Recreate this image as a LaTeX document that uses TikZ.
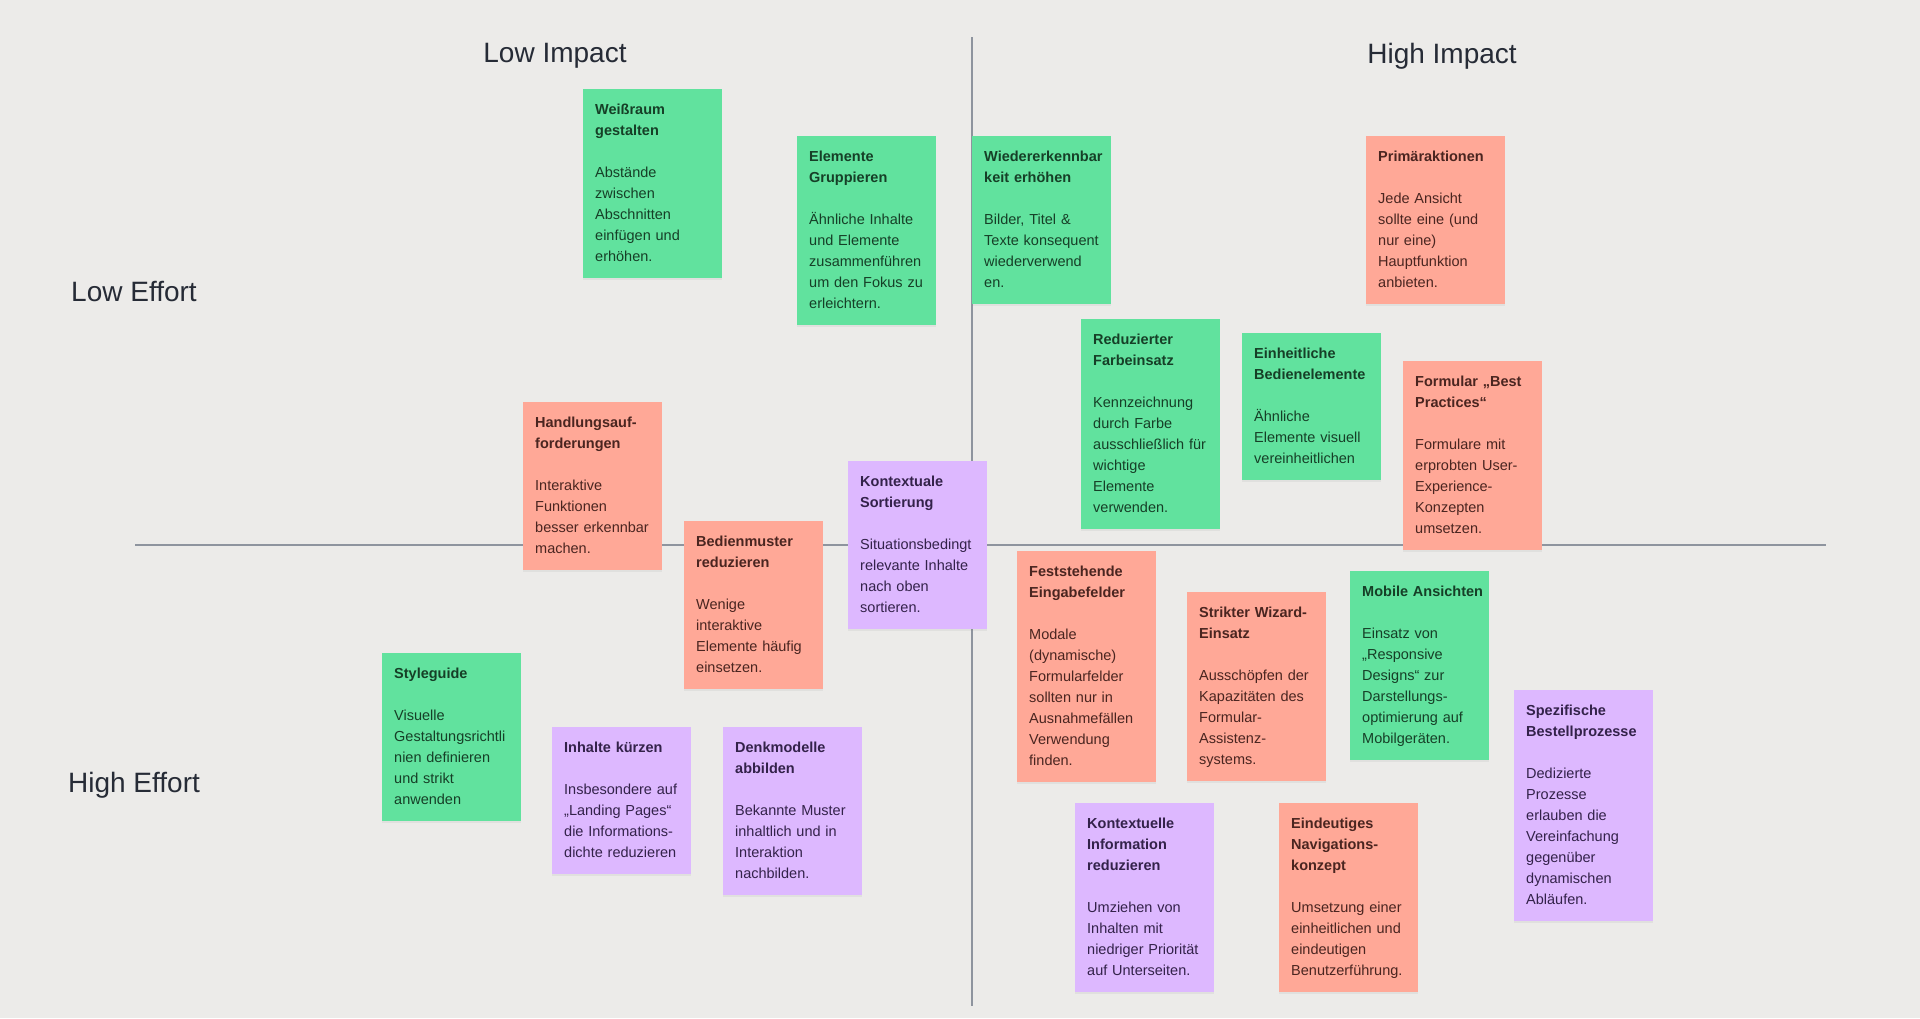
\documentclass[tikz,border=0pt]{standalone}
\usepackage{fontspec}
\setmainfont{Liberation Sans}
\usepackage{xcolor}
\usepackage{tikz}
\usetikzlibrary{shadows}
\definecolor{bgcol}{HTML}{ECEBE9}
\definecolor{axiscol}{HTML}{8E949E}
\definecolor{labelcol}{HTML}{262B36}
\definecolor{greenfill}{HTML}{61E29E}
\definecolor{greentext}{HTML}{163F27}
\definecolor{redfill}{HTML}{FFA897}
\definecolor{redtext}{HTML}{4A2520}
\definecolor{purplefill}{HTML}{DDB8FF}
\definecolor{purpletext}{HTML}{33224A}

\begin{document}
\begin{tikzpicture}[
    x=1pt, y=-1pt,
    axis/.style={draw=axiscol, line width=2pt},
    axislabel/.style={text=labelcol, font=\fontsize{28}{32}\selectfont},
    note/.style={anchor=north west, text width=115pt, inner xsep=12pt, inner ysep=10.5pt,
        align=left, font=\fontsize{14.5}{21}\selectfont,
        execute at begin node=\strut, execute at end node=\strut,
        drop shadow={shadow xshift=0pt, shadow yshift=-2pt, opacity=0.10}},
    greennote/.style={note, fill=greenfill, text=greentext},
    rednote/.style={note, fill=redfill, text=redtext},
    purplenote/.style={note, fill=purplefill, text=purpletext}
]
\fill[bgcol] (0,0) rectangle (1920,1018);
\useasboundingbox (0,0) rectangle (1920,1018);

\coordinate (impacttop) at (972,37);
\coordinate (impactbottom) at (972,1006);
\coordinate (effortleft) at (135,545);
\coordinate (effortright) at (1826,545);
\draw[axis] (impacttop) -- (impactbottom);
\draw[axis] (effortleft) -- (effortright);

\node[axislabel] (lowimpact) at (555,56) {Low Impact};
\node[axislabel] (highimpact) at (1442,56) {High Impact};
\node[axislabel] (loweffort) at (134,291) {Low Effort};
\node[axislabel] (higheffort) at (134,785) {High Effort};

% low effort, low impact
\node[greennote] (weissraum) at (583,89) {\bfseries Weißraum\\gestalten\\[21pt]\mdseries
    Abstände\\zwischen\\Abschnitten\\einfügen und\\erhöhen.};
\node[greennote] (gruppieren) at (797,136) {\bfseries Elemente\\Gruppieren\\[21pt]\mdseries
    Ähnliche Inhalte\\und Elemente\\zusammenführen\\um den Fokus zu\\erleichtern.};
\node[rednote] (handlung) at (523,402) {\bfseries Handlungsauf-\\forderungen\\[21pt]\mdseries
    Interaktive\\Funktionen\\besser erkennbar\\machen.};
\node[rednote] (bedienmuster) at (684,521) {\bfseries Bedienmuster\\reduzieren\\[21pt]\mdseries
    Wenige\\interaktive\\Elemente häufig\\einsetzen.};
\node[purplenote] (sortierung) at (848,461) {\bfseries Kontextuale\\Sortierung\\[21pt]\mdseries
    Situationsbedingt\\relevante Inhalte\\nach oben\\sortieren.};

% low effort, high impact
\node[greennote] (wiedererkennbar) at (972,136) {\bfseries Wiedererkennbar\\keit erhöhen\\[21pt]\mdseries
    Bilder, Titel \&\\Texte konsequent\\wiederverwend\\en.};
\node[rednote] (primaer) at (1366,136) {\bfseries Primäraktionen\\[21pt]\mdseries
    Jede Ansicht\\sollte eine (und\\nur eine)\\Hauptfunktion\\anbieten.};
\node[greennote] (farbeinsatz) at (1081,319) {\bfseries Reduzierter\\Farbeinsatz\\[21pt]\mdseries
    Kennzeichnung\\durch Farbe\\ausschließlich für\\wichtige\\Elemente\\verwenden.};
\node[greennote] (bedienelemente) at (1242,333) {\bfseries Einheitliche\\Bedienelemente\\[21pt]\mdseries
    Ähnliche\\Elemente visuell\\vereinheitlichen};
\node[rednote] (formular) at (1403,361) {\bfseries Formular „Best\\Practices“\\[21pt]\mdseries
    Formulare mit\\erprobten User-\\Experience-\\Konzepten\\umsetzen.};

% high effort, low impact
\node[greennote] (styleguide) at (382,653) {\bfseries Styleguide\\[21pt]\mdseries
    Visuelle\\Gestaltungsrichtli\\nien definieren\\und strikt\\anwenden};
\node[purplenote] (kuerzen) at (552,727) {\bfseries Inhalte kürzen\\[21pt]\mdseries
    Insbesondere auf\\„Landing Pages“\\die Informations-\\dichte reduzieren};
\node[purplenote] (denkmodelle) at (723,727) {\bfseries Denkmodelle\\abbilden\\[21pt]\mdseries
    Bekannte Muster\\inhaltlich und in\\Interaktion\\nachbilden.};

% high effort, high impact
\node[rednote] (eingabefelder) at (1017,551) {\bfseries Feststehende\\Eingabefelder\\[21pt]\mdseries
    Modale\\(dynamische)\\Formularfelder\\sollten nur in\\Ausnahmefällen\\Verwendung\\finden.};
\node[rednote] (wizard) at (1187,592) {\bfseries Strikter Wizard-\\Einsatz\\[21pt]\mdseries
    Ausschöpfen der\\Kapazitäten des\\Formular-\\Assistenz-\\systems.};
\node[greennote] (mobil) at (1350,571) {\bfseries \mbox{Mobile Ansichten}\\[21pt]\mdseries
    Einsatz von\\„Responsive\\Designs“ zur\\Darstellungs-\\optimierung auf\\Mobilgeräten.};
\node[purplenote] (bestellung) at (1514,690) {\bfseries Spezifische\\Bestellprozesse\\[21pt]\mdseries
    Dedizierte\\Prozesse\\erlauben die\\Vereinfachung\\gegenüber\\dynamischen\\Abläufen.};
\node[purplenote] (kontextinfo) at (1075,803) {\bfseries Kontextuelle\\Information\\reduzieren\\[21pt]\mdseries
    Umziehen von\\Inhalten mit\\niedriger Priorität\\auf Unterseiten.};
\node[rednote] (navigation) at (1279,803) {\bfseries Eindeutiges\\Navigations-\\konzept\\[21pt]\mdseries
    Umsetzung einer\\einheitlichen und\\eindeutigen\\Benutzerführung.};
\end{tikzpicture}
\end{document}
